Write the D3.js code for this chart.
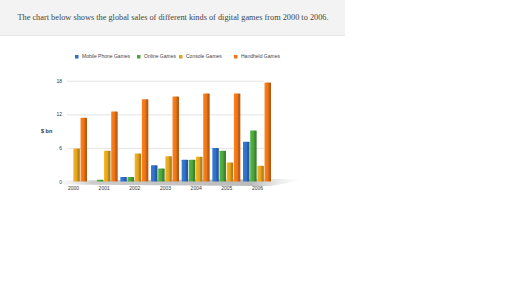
<!DOCTYPE html>
<html>
<head>
<meta charset="utf-8">
<script src="https://cdn.jsdelivr.net/npm/d3@7"></script>
<style>
  body { margin: 0; background: #fff; }
  text { font-family: "Liberation Sans", Arial, sans-serif; }
  text.title { font-family: "Liberation Serif", serif; }
</style>
</head>
<body>
<svg id="chart"></svg>
<script>
// data ($ bn)
const years = ["2000", "2001", "2002", "2003", "2004", "2005", "2006"];
const keys = ["Mobile Phone Games", "Online Games", "Console Games", "Handheld Games"];
const mobile = [0, 0, 0.8, 2.9, 3.9, 6.0, 7.1];
const online = [0, 0.3, 0.8, 2.3, 3.9, 5.5, 9.1];
const consoleG = [5.9, 5.5, 5.0, 4.5, 4.4, 3.4, 2.8];
const handheld = [11.4, 12.5, 14.7, 15.2, 15.7, 15.7, 17.7];
const yTicks = [0, 6, 12, 18];
const colors = ["#2f6fc6", "#4ba53a", "#e0a21e", "#ea7418"];

const width = 512, height = 288;
const series = [mobile, online, consoleG, handheld];

const svg = d3.select("#chart")
  .attr("width", width)
  .attr("height", height)
  .attr("viewBox", [0, 0, width, height]);

const defs = svg.append("defs");
// gradients to fake the 3d cylinder look
colors.forEach((c, i) => {
  const g = defs.append("linearGradient").attr("id", "g" + i)
    .attr("x1", 0).attr("x2", 1).attr("y1", 0).attr("y2", 0);
  g.append("stop").attr("offset", "0%").attr("stop-color", d3.color(c).brighter(0.3));
  g.append("stop").attr("offset", "55%").attr("stop-color", c);
  g.append("stop").attr("offset", "70%").attr("stop-color", d3.color(c).darker(0.5));
  g.append("stop").attr("offset", "100%").attr("stop-color", d3.color(c).darker(0.8));
});
const sh = defs.append("linearGradient").attr("id", "shadow")
  .attr("x1", 0).attr("x2", 1).attr("y1", 0).attr("y2", 0);
sh.append("stop").attr("offset", "0%").attr("stop-color", "#ddd").attr("stop-opacity", 0);
sh.append("stop").attr("offset", "15%").attr("stop-color", "#ccc");
sh.append("stop").attr("offset", "80%").attr("stop-color", "#bbb");
sh.append("stop").attr("offset", "100%").attr("stop-color", "#ddd").attr("stop-opacity", 0);

// title strip
svg.append("rect").attr("x", 0).attr("y", 0).attr("width", 345).attr("height", 35)
  .attr("fill", "#f3f3f3");
svg.append("line").attr("x1", 0).attr("x2", 345).attr("y1", 35.5).attr("y2", 35.5)
  .attr("stroke", "#e6e6e6");
svg.append("text")
  .attr("class", "title")
  .attr("x", 173).attr("y", 20)
  .attr("text-anchor", "middle")
  .attr("font-size", 8.3)
  .attr("fill", "#444")
  .text("The chart below shows the global sales of different kinds of digital games from 2000 to 2006.");

const x = d3.scalePoint(years, [73, 257]);
const xs = d3.scaleBand(keys, [-14, 14]).paddingInner(0.1);
const y = d3.scaleLinear([0, 18], [181.5, 80.7]);

// gridlines + y labels
const yAxis = svg.append("g")
  .attr("transform", "translate(67,0)")
  .call(d3.axisLeft(y).tickValues(yTicks).tickSize(0).tickPadding(5))
  .call(g => g.select(".domain").remove())
  .call(g => g.selectAll(".tick text").attr("font-size", 5).attr("fill", "#333"));
yAxis.selectAll(".tick").filter(d => d > 0).append("line")
  .attr("x2", 197).attr("stroke", "#ddd").attr("stroke-width", 0.8);

svg.append("text").attr("x", 41).attr("y", 133)
  .attr("font-size", 5.5).attr("font-weight", "bold").attr("fill", "#333").text("$ bn");

// floor shadow
svg.append("path")
  .attr("d", "M56,180.5 L300,179 L300,181 L270,186 L56,184.5 Z")
  .attr("fill", "url(#shadow)");

// bars
svg.append("g")
  .selectAll("g")
  .data(series)
  .join("g")
    .attr("fill", (d, i) => `url(#g${i})`)
  .selectAll("rect")
  .data((d, i) => d.map((v, j) => ({v, year: years[j], key: keys[i]})))
  .join("rect")
    .attr("x", d => x(d.year) + xs(d.key))
    .attr("y", d => y(d.v))
    .attr("width", xs.bandwidth())
    .attr("height", d => y(0) - y(d.v))
    .attr("rx", 0.6);

// x labels
svg.append("g")
  .attr("transform", `translate(0,${y(0) + 2})`)
  .call(d3.axisBottom(x).tickSize(0).tickPadding(3))
  .call(g => g.select(".domain").remove())
  .call(g => g.selectAll(".tick text").attr("font-size", 5).attr("fill", "#333"));

// legend
const legX = [75, 137, 179, 234];
const leg = svg.append("g").selectAll("g")
  .data(keys)
  .join("g")
    .attr("transform", (d, i) => `translate(${legX[i]},55)`);
leg.append("rect").attr("width", 3.5).attr("height", 3.5).attr("fill", (d, i) => colors[i]);
leg.append("text").attr("x", 7).attr("y", 3.3)
  .attr("font-size", 5).attr("fill", "#444").text(d => d);
</script>
</body>
</html>
